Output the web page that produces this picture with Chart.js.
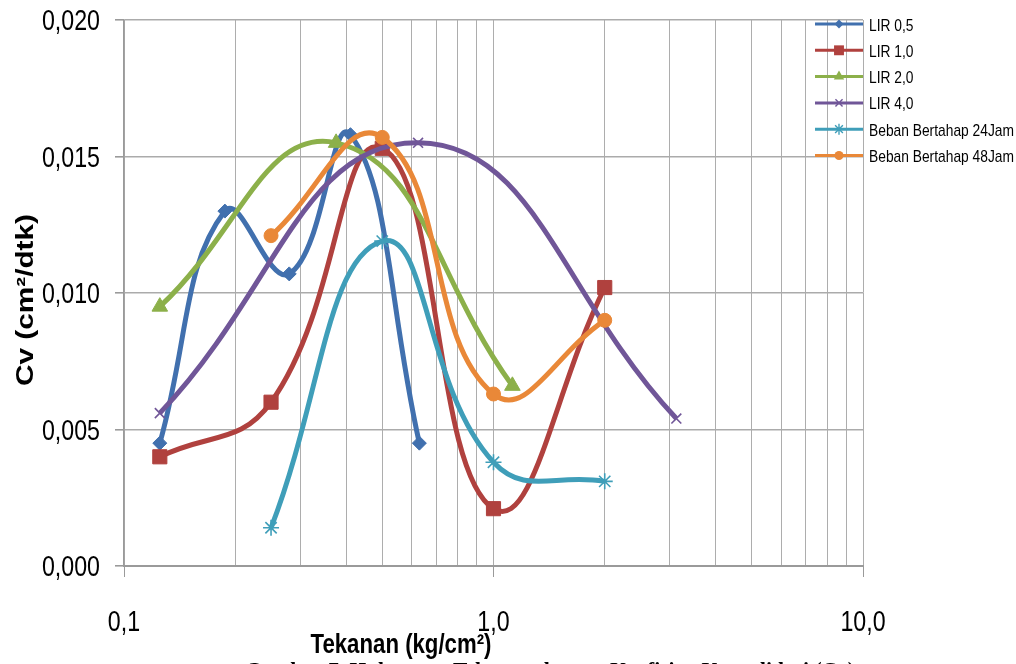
<!DOCTYPE html>
<html>
<head>
<meta charset="utf-8">
<script src="https://cdn.jsdelivr.net/npm/chart.js@4.4.1/dist/chart.umd.min.js"></script>
<style>
  html, body { margin: 0; padding: 0; background: #ffffff; }
  canvas { display: block; }
</style>
</head>
<body>
<canvas id="cvChart" width="1016" height="664"></canvas>
<script>
// Tekanan (kg/cm²) and Cv (cm²/dtk) for each test series
const tekananLIR05 = [0.125, 0.1875, 0.28, 0.41, 0.63];
const cvLIR05      = [0.0045, 0.0130, 0.0107, 0.0158, 0.0045];

const tekananLIR10 = [0.125, 0.25, 0.5, 1.0, 2.0];
const cvLIR10      = [0.0040, 0.0060, 0.0153, 0.0021, 0.0102];

const tekananLIR20 = [0.125, 0.375, 1.125];
const cvLIR20      = [0.0095, 0.0155, 0.0066];

const tekananLIR40 = [0.125, 0.625, 3.125];
const cvLIR40      = [0.0056, 0.0155, 0.0054];

const tekanan24Jam = [0.25, 0.5, 1.0, 2.0];
const cv24Jam      = [0.0014, 0.0119, 0.0038, 0.0031];

const tekanan48Jam = [0.25, 0.5, 1.0, 2.0];
const cv48Jam      = [0.0121, 0.0157, 0.0063, 0.0090];

const seriesNames = ['LIR 0,5', 'LIR 1,0', 'LIR 2,0', 'LIR 4,0',
                     'Beban Bertahap 24Jam', 'Beban Bertahap 48Jam'];

// log-axis grid positions and the ones that carry a label
const xGridValues = [0.1, 0.2, 0.3, 0.4, 0.5, 0.6, 0.7, 0.8, 0.9,
                     1, 2, 3, 4, 5, 6, 7, 8, 9, 10];
const xLabelledValues = [0.1, 1, 10];
const xTickLabels = ['0,1', '1,0', '10,0'];

const yTickValues = [0, 0.005, 0.010, 0.015, 0.020];
const yTickLabels = ['0,000', '0,005', '0,010', '0,015', '0,020'];

const xTitle = 'Tekanan (kg/cm²)';
const yTitle = 'Cv (cm²/dtk)';
const captionText = 'Gambar 7. Hubungan Tekanan dengan Koefisien Konsolidasi (Cv)';

// styling
const seriesColors = ['#4170AE', '#B0413E', '#8CB04A', '#705698', '#3F9EB9', '#E98838'];
const seriesMarkers = ['rectRot', 'rect', 'triangle', 'crossRot', 'star', 'circle'];
const markerRadius = [7, 10, 9, 7, 8, 7];
const legendMarkerRadius = [4.5, 7, 6, 5, 5.5, 4.5];
const tickFont = '29px "Liberation Sans", Arial, sans-serif';
const tickSqueeze = 0.8;

const seriesX = [tekananLIR05, tekananLIR10, tekananLIR20, tekananLIR40, tekanan24Jam, tekanan48Jam];
const seriesY = [cvLIR05, cvLIR10, cvLIR20, cvLIR40, cv24Jam, cv48Jam];

function toPoints(xs, ys) {
  return xs.map((x, i) => ({ x: x, y: ys[i] }));
}

const datasets = seriesNames.map((name, i) => {
  const lineMarker = seriesMarkers[i] === 'crossRot' || seriesMarkers[i] === 'star';
  return {
    label: name,
    data: toPoints(seriesX[i], seriesY[i]),
    showLine: true,
    fill: false,
    tension: 0.45,
    borderColor: seriesColors[i],
    backgroundColor: seriesColors[i],
    borderWidth: 5,
    pointStyle: seriesMarkers[i],
    pointRadius: markerRadius[i],
    pointBackgroundColor: seriesColors[i],
    pointBorderColor: seriesColors[i],
    pointBorderWidth: lineMarker ? 1.6 : 1,
    order: seriesNames.length - i   // later series on top
  };
});

// draws text squeezed or stretched horizontally by a factor
function drawScaledText(ctx, text, font, x, y, sx, align, angle) {
  ctx.save();
  ctx.translate(x, y);
  if (angle) ctx.rotate(angle);
  ctx.scale(sx, 1);
  ctx.font = font;
  ctx.textAlign = align;
  ctx.textBaseline = 'alphabetic';
  ctx.fillStyle = '#000000';
  ctx.fillText(text, 0, 0);
  ctx.restore();
}

// draws text fitted to a given length, centred on (x, y)
function drawFittedText(ctx, text, font, x, y, length, angle) {
  ctx.save();
  ctx.font = font;
  const w = ctx.measureText(text).width;
  ctx.restore();
  drawScaledText(ctx, text, font, x, y, length / w, 'center', angle);
}

function drawMarker(ctx, style, x, y, r, color) {
  ctx.save();
  ctx.fillStyle = color;
  ctx.strokeStyle = color;
  ctx.lineWidth = 1.4;
  ctx.beginPath();
  if (style === 'rectRot') {
    ctx.moveTo(x, y - r); ctx.lineTo(x + r, y); ctx.lineTo(x, y + r); ctx.lineTo(x - r, y);
    ctx.closePath(); ctx.fill();
  } else if (style === 'rect') {
    const s = r * Math.SQRT1_2;
    ctx.rect(x - s, y - s, 2 * s, 2 * s); ctx.fill();
  } else if (style === 'triangle') {
    ctx.moveTo(x, y - r);
    ctx.lineTo(x + r * 0.866, y + r * 0.5);
    ctx.lineTo(x - r * 0.866, y + r * 0.5);
    ctx.closePath(); ctx.fill();
  } else if (style === 'crossRot') {
    const s = r * Math.SQRT1_2;
    ctx.moveTo(x - s, y - s); ctx.lineTo(x + s, y + s);
    ctx.moveTo(x + s, y - s); ctx.lineTo(x - s, y + s);
    ctx.stroke();
  } else if (style === 'star') {
    const s = r * Math.SQRT1_2;
    ctx.moveTo(x - s, y - s); ctx.lineTo(x + s, y + s);
    ctx.moveTo(x + s, y - s); ctx.lineTo(x - s, y + s);
    ctx.moveTo(x, y - r); ctx.lineTo(x, y + r);
    ctx.stroke();
  } else {
    ctx.arc(x, y, r, 0, Math.PI * 2); ctx.fill();
  }
  ctx.restore();
}

const decorations = {
  id: 'decorations',
  afterDraw(chart) {
    const ctx = chart.ctx;
    const area = chart.chartArea;
    const xs = chart.scales.x, ys = chart.scales.y;

    // tick labels, narrow face
    yTickValues.forEach((v, i) => {
      drawScaledText(ctx, yTickLabels[i], tickFont, 100, ys.getPixelForValue(v) + 10, tickSqueeze, 'right');
    });
    xLabelledValues.forEach((v, i) => {
      drawScaledText(ctx, xTickLabels[i], tickFont, xs.getPixelForValue(v), 631, tickSqueeze, 'center');
    });

    // legend, right of the plot
    const rowTop = 24, rowStep = 26.3;
    const keyLeft = area.right - 48, keyRight = area.right, textLeft = area.right + 6;
    const legendFont = '17px "Liberation Sans", Arial, sans-serif';
    ctx.save();
    ctx.font = legendFont;
    const longest = Math.max(...seriesNames.map(n => ctx.measureText(n).width));
    ctx.restore();
    const legendSqueeze = 145 / longest;
    seriesNames.forEach((name, i) => {
      const y = rowTop + i * rowStep;
      ctx.save();
      ctx.strokeStyle = seriesColors[i];
      ctx.lineWidth = 3;
      ctx.beginPath();
      ctx.moveTo(keyLeft, y);
      ctx.lineTo(keyRight, y);
      ctx.stroke();
      ctx.restore();
      drawMarker(ctx, seriesMarkers[i], (keyLeft + keyRight) / 2, y, legendMarkerRadius[i], seriesColors[i]);
      drawScaledText(ctx, name, legendFont, textLeft, y + 6.5, legendSqueeze, 'left');
    });

    // axis titles
    drawFittedText(ctx, xTitle, 'bold 28px "Liberation Sans", Arial, sans-serif', 401, 653, 181, 0);
    drawFittedText(ctx, yTitle, 'bold 23px "Liberation Sans", Arial, sans-serif', 33, 300, 172, -Math.PI / 2);

    // figure caption running below the chart
    drawFittedText(ctx, captionText, 'bold 24px "Liberation Serif", serif', 550, 678, 610, 0);
  }
};

new Chart(document.getElementById('cvChart'), {
  type: 'scatter',
  data: { datasets: datasets },
  plugins: [decorations],
  options: {
    responsive: false,
    animation: false,
    devicePixelRatio: 1,
    layout: { padding: { top: 20, right: 153, bottom: 0, left: 0 } },
    plugins: {
      legend: { display: false },
      tooltip: { enabled: false },
      title: { display: false }
    },
    scales: {
      x: {
        type: 'logarithmic',
        position: 'bottom',
        min: 0.1,
        max: 10,
        afterBuildTicks(scale) {
          scale.ticks = xGridValues.map(v => ({ value: v }));
        },
        afterFit(scale) {
          scale.height = 98;
          scale.paddingLeft = 0; scale.paddingRight = 0;
        },
        ticks: { display: false, autoSkip: false, maxRotation: 0 },
        grid: {
          color: '#ADADAD',
          lineWidth: 1,
          drawTicks: true,
          tickLength: 11,
          tickColor(ctx) {
            const v = ctx.tick ? ctx.tick.value : null;
            return xLabelledValues.some(m => Math.abs(m - v) < 1e-9) ? '#9A9A9A' : 'rgba(0,0,0,0)';
          }
        },
        border: { display: true, color: '#9A9A9A', width: 2 }
      },
      y: {
        type: 'linear',
        min: yTickValues[0],
        max: yTickValues[yTickValues.length - 1],
        afterBuildTicks(scale) {
          scale.ticks = yTickValues.map(v => ({ value: v }));
        },
        afterFit(scale) {
          scale.width = 124;
          scale.paddingTop = 0; scale.paddingBottom = 0;
        },
        ticks: { display: false },
        grid: {
          color: '#ABABAB',
          lineWidth: 1.6,
          drawTicks: true,
          tickLength: 9,
          tickColor: '#9A9A9A'
        },
        border: { display: true, color: '#9A9A9A', width: 1.5 }
      }
    }
  }
});
</script>
</body>
</html>
